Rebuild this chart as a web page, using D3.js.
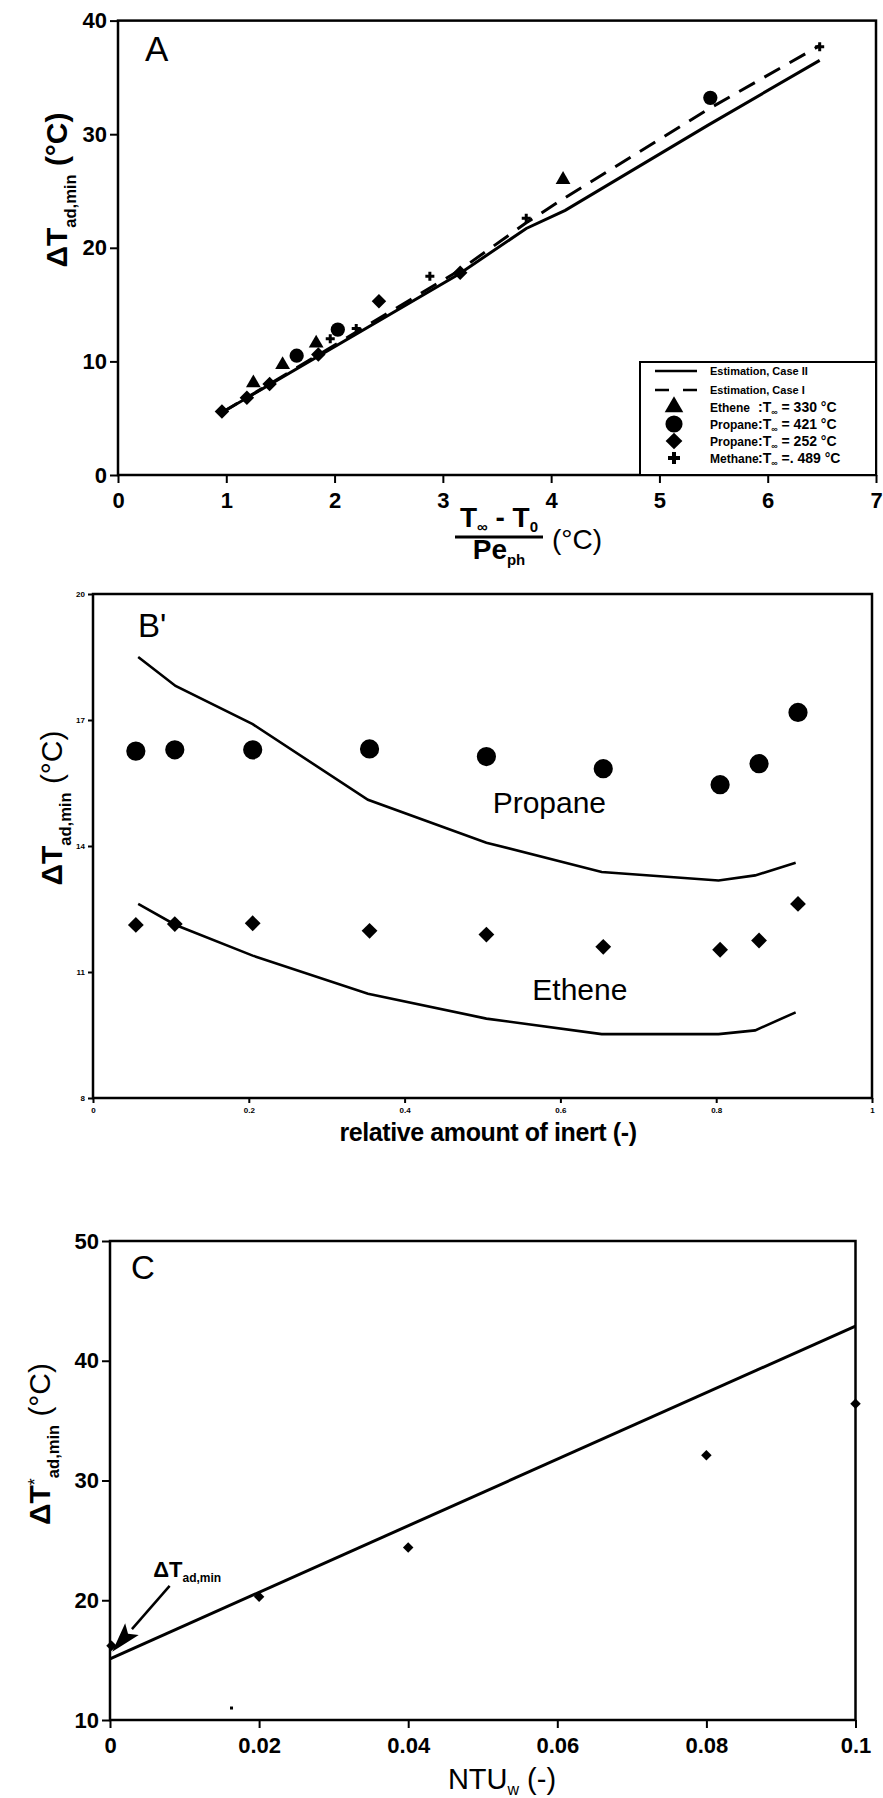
<!DOCTYPE html>
<html>
<head>
<meta charset="utf-8">
<script src="https://cdn.jsdelivr.net/npm/d3@7"></script>
<style>
  body { margin: 0; background: #fff; }
  svg { display: block; }
  text { font-family: "Liberation Sans", Arial, sans-serif; fill: #000; }
</style>
</head>
<body>
<svg id="chart"></svg>
<script>
// Set dimensions
const width = 883;
const height = 1798;

// ---- Panel A data: [x, y] = [(Too - T0)/Pe_ph, dT_ad,min]
const ethene330 = [[1.25, 8.1], [1.52, 9.7], [1.83, 11.6], [4.11, 26.0]];
const propane421 = [[1.65, 10.5], [2.03, 12.8], [5.47, 33.2]];
const propane252 = [[0.96, 5.6], [1.19, 6.8], [1.40, 8.0], [1.85, 10.6], [2.41, 15.3], [3.16, 17.8]];
const methane489 = [[1.96, 12.0], [2.20, 12.9], [2.88, 17.5], [3.77, 22.6], [6.48, 37.7]];
const estCaseII = [[0.96, 5.5], [3.15, 17.7], [3.77, 21.7], [4.13, 23.3], [5.45, 30.8], [6.48, 36.5]];
const estCaseI = [[0.96, 5.5], [3.15, 18.0], [3.77, 22.2], [4.11, 24.3], [5.45, 32.2], [6.48, 37.8]];
const legendNames = ["Ethene", "Propane", "Propane", "Methane"];
const legendTemps = ["= 330 °C", "= 421 °C", "= 252 °C", "=. 489 °C"];
const ticksAx = [0, 1, 2, 3, 4, 5, 6, 7];
const ticksAy = [0, 10, 20, 30, 40];

// ---- Panel B data: relative amount of inert vs dT_ad,min
const inertMeas = [0.055, 0.105, 0.205, 0.355, 0.505, 0.655, 0.805, 0.855, 0.905];
const propaneMeas = [16.26, 16.29, 16.29, 16.31, 16.13, 15.84, 15.46, 15.96, 17.18];
const etheneMeas = [12.12, 12.14, 12.16, 11.98, 11.89, 11.60, 11.53, 11.75, 12.62];
const inertCalc = [0.058, 0.106, 0.205, 0.353, 0.505, 0.653, 0.803, 0.85, 0.902];
const propaneCalc = [18.50, 17.81, 16.90, 15.10, 14.08, 13.38, 13.18, 13.30, 13.60];
const etheneCalc = [12.62, 12.12, 11.39, 10.48, 9.89, 9.52, 9.52, 9.61, 10.04];
const ticksBx = [0, 0.2, 0.4, 0.6, 0.8, 1];
const ticksBy = [8, 11, 14, 17, 20];

// ---- Panel C data: NTU_w vs dT*_ad,min
const ntuW = [0.0002, 0.02, 0.04, 0.08, 0.1];
const dTstar = [16.2, 20.3, 24.4, 32.1, 36.4];
const fitC = [[0, 15.1], [0.1, 42.9]];
const speckC = [[0.0163, 11.0]];
const arrowC = [[0.008, 21.2], [0.0003, 15.7]];
const ticksCx = [0, 0.02, 0.04, 0.06, 0.08, 0.1];
const ticksCy = [10, 20, 30, 40, 50];

const svg = d3.select("#chart")
    .attr("width", width)
    .attr("height", height);

// Scales
const xA = d3.scaleLinear().domain([0, 7]).range([118, 876]);
const yA = d3.scaleLinear().domain([0, 40]).range([475, 20.6]);
const xB = d3.scaleLinear().domain([0, 1]).range([93, 872]);
const yB = d3.scaleLinear().domain([8, 20]).range([1098, 594]);
const xC = d3.scaleLinear().domain([0, 0.1]).range([110, 855.5]);
const yC = d3.scaleLinear().domain([10, 50]).range([1720, 1241]);

const sym = {
    tri: d3.symbol().type(d3.symbolTriangle),
    circ: d3.symbol().type(d3.symbolCircle),
    sq: d3.symbol().type(d3.symbolSquare),
    cross: d3.symbol().type(d3.symbolCross)
};

// frame + axes for one panel
function drawFrame(x, y, xt, yt, o) {
    const g = svg.append("g");
    g.append("rect")
        .attr("x", x.range()[0]).attr("y", y.range()[1])
        .attr("width", x.range()[1] - x.range()[0])
        .attr("height", y.range()[0] - y.range()[1])
        .attr("fill", "none").attr("stroke", "#000").attr("stroke-width", o.frame);

    const ax = g.append("g")
        .attr("transform", `translate(0,${y.range()[0]})`)
        .call(d3.axisBottom(x).tickValues(xt).tickSize(o.tick).tickSizeOuter(0)
            .tickPadding(o.padX).tickFormat(d3.format("")));
    const ay = g.append("g")
        .attr("transform", `translate(${x.range()[0]},0)`)
        .call(d3.axisLeft(y).tickValues(yt).tickSize(o.tick).tickSizeOuter(0)
            .tickPadding(o.padY).tickFormat(d3.format("")));
    [ax, ay].forEach(a => {
        a.select(".domain").remove();
        a.selectAll(".tick line").attr("stroke", "#000").attr("stroke-width", o.tickW);
        a.selectAll(".tick text")
            .style("font-family", "'Liberation Sans', Arial, sans-serif")
            .style("font-size", o.font + "px")
            .style("font-weight", "bold")
            .attr("fill", "#000");
    });
    return g;
}

function yTitle(x, yc, size, star, weight) {
    const t = svg.append("text")
        .attr("transform", `translate(${x},${yc}) rotate(-90)`)
        .attr("text-anchor", "middle")
        .style("font-size", size + "px")
        .style("font-weight", weight);
    t.append("tspan").text("ΔT").style("font-weight", "bold");
    if (star) t.append("tspan").text("*").attr("dy", -size * 0.3).style("font-size", size * 0.6 + "px");
    t.append("tspan").text("ad,min").attr("dy", star ? size * 0.6 : size * 0.3)
        .style("font-size", size * 0.55 + "px").style("font-weight", "bold");
    t.append("tspan").text(" (°C)").attr("dy", -size * 0.3);
}

const line = (x, y) => d3.line().x(d => x(d[0])).y(d => y(d[1]));

// ================= Panel A =================
drawFrame(xA, yA, ticksAx, ticksAy, { frame: 2.5, tick: 8, tickW: 2, padX: 9, padY: 3, font: 22 });

svg.append("path").datum(estCaseII)
    .attr("d", line(xA, yA)).attr("fill", "none").attr("stroke", "#000").attr("stroke-width", 3);
svg.append("path").datum(estCaseI)
    .attr("d", line(xA, yA)).attr("fill", "none").attr("stroke", "#000").attr("stroke-width", 3)
    .attr("stroke-dasharray", "18,11");

const gA = svg.append("g");
gA.selectAll(".e330").data(ethene330).join("path")
    .attr("transform", d => `translate(${xA(d[0])},${yA(d[1])})`).attr("d", sym.tri.size(95)());
gA.selectAll(".p421").data(propane421).join("path")
    .attr("transform", d => `translate(${xA(d[0])},${yA(d[1])})`).attr("d", sym.circ.size(160)());
gA.selectAll(".p252").data(propane252).join("path")
    .attr("transform", d => `translate(${xA(d[0])},${yA(d[1])}) rotate(45)`).attr("d", sym.sq.size(105)());
gA.selectAll(".m489").data(methane489).join("path")
    .attr("transform", d => `translate(${xA(d[0])},${yA(d[1])})`).attr("d", sym.cross.size(45)());

// legend
const lg = svg.append("g");
const lx0 = 640, ly0 = 362;
lg.append("rect").attr("x", lx0).attr("y", ly0).attr("width", 876 - lx0).attr("height", 475 - ly0)
    .attr("fill", "#fff").attr("stroke", "#000").attr("stroke-width", 2);
const rowsY = [371, 390, 407, 424, 441, 458];
lg.append("line").attr("x1", 655).attr("x2", 697).attr("y1", rowsY[0]).attr("y2", rowsY[0])
    .attr("stroke", "#000").attr("stroke-width", 2.5);
lg.append("line").attr("x1", 655).attr("x2", 697).attr("y1", rowsY[1]).attr("y2", rowsY[1])
    .attr("stroke", "#000").attr("stroke-width", 2.5).attr("stroke-dasharray", "14,14");
["Estimation, Case II", "Estimation, Case I"].forEach((s, i) => {
    lg.append("text").attr("x", 710).attr("y", rowsY[i] + 4)
        .style("font-size", "11px").style("font-weight", "bold").text(s);
});
const legSym = [
    sym.tri.size(150)(), sym.circ.size(230)(), sym.sq.size(140)(), sym.cross.size(80)()
];
legendNames.forEach((n, i) => {
    const yy = rowsY[i + 2];
    lg.append("path").attr("d", legSym[i])
        .attr("transform", `translate(674,${yy})${i === 2 ? " rotate(45)" : ""}`);
    lg.append("text").attr("x", 710).attr("y", yy + 5)
        .style("font-size", "12px").style("font-weight", "bold").text(n);
    const t = lg.append("text").attr("x", 758).attr("y", yy + 5)
        .style("font-size", "14px").style("font-weight", "bold");
    t.append("tspan").text(":T");
    t.append("tspan").text("∞").attr("dy", 3).style("font-size", "9px");
    t.append("tspan").text(" " + legendTemps[i]).attr("dy", -3);
});

svg.append("text").attr("x", 145).attr("y", 61).style("font-size", "35px").text("A");
yTitle(67, 190, 30, false, "bold");

// fraction x label
const fx = svg.append("g").style("font-weight", "bold");
const num = fx.append("text").attr("x", 499).attr("y", 527).attr("text-anchor", "middle")
    .style("font-size", "28px");
num.append("tspan").text("T");
num.append("tspan").text("∞").attr("dy", 5).style("font-size", "15px");
num.append("tspan").text(" - T").attr("dy", -5);
num.append("tspan").text("0").attr("dy", 5).style("font-size", "15px");
fx.append("line").attr("x1", 455).attr("x2", 543).attr("y1", 537).attr("y2", 537)
    .attr("stroke", "#000").attr("stroke-width", 3);
const den = fx.append("text").attr("x", 499).attr("y", 559).attr("text-anchor", "middle")
    .style("font-size", "28px");
den.append("tspan").text("Pe");
den.append("tspan").text("ph").attr("dy", 6).style("font-size", "15px");
svg.append("text").attr("x", 552).attr("y", 549).style("font-size", "28px").text("(°C)");

// ================= Panel B =================
drawFrame(xB, yB, ticksBx, ticksBy, { frame: 2.5, tick: 5, tickW: 2, padX: 4, padY: 3, font: 8 });

svg.append("path").datum(d3.zip(inertCalc, propaneCalc))
    .attr("d", line(xB, yB)).attr("fill", "none").attr("stroke", "#000").attr("stroke-width", 2.6);
svg.append("path").datum(d3.zip(inertCalc, etheneCalc))
    .attr("d", line(xB, yB)).attr("fill", "none").attr("stroke", "#000").attr("stroke-width", 2.6);

svg.append("g").selectAll("path").data(d3.zip(inertMeas, propaneMeas)).join("path")
    .attr("transform", d => `translate(${xB(d[0])},${yB(d[1])})`).attr("d", sym.circ.size(290)());
svg.append("g").selectAll("path").data(d3.zip(inertMeas, etheneMeas)).join("path")
    .attr("transform", d => `translate(${xB(d[0])},${yB(d[1])}) rotate(45)`).attr("d", sym.sq.size(125)());

svg.append("text").attr("x", xB(0.513)).attr("y", yB(14.79)).style("font-size", "30px").text("Propane");
svg.append("text").attr("x", xB(0.564)).attr("y", yB(10.34)).style("font-size", "30px").text("Ethene");
svg.append("text").attr("x", 138).attr("y", 637).style("font-size", "33px").text("B'");
yTitle(62, 808, 30, false, "normal");
svg.append("text").attr("x", 488).attr("y", 1141).attr("text-anchor", "middle")
    .style("font-size", "25px").style("font-weight", "bold").style("letter-spacing", "-0.4px")
    .text("relative amount of inert (-)");

// ================= Panel C =================
drawFrame(xC, yC, ticksCx, ticksCy, { frame: 2.5, tick: 8, tickW: 2, padX: 9, padY: 3, font: 22 });

svg.append("path").datum(fitC)
    .attr("d", line(xC, yC)).attr("fill", "none").attr("stroke", "#000").attr("stroke-width", 3);
svg.append("g").selectAll("path").data(d3.zip(ntuW, dTstar)).join("path")
    .attr("transform", d => `translate(${xC(d[0])},${yC(d[1])}) rotate(45)`).attr("d", sym.sq.size(55)());
svg.append("g").selectAll("rect").data(speckC).join("rect")
    .attr("x", d => xC(d[0]) - 1.5).attr("y", d => yC(d[1]) - 1.5).attr("width", 3).attr("height", 3);

// arrow annotation
const [aT, aH] = arrowC.map(d => [xC(d[0]), yC(d[1])]);
const ang = Math.atan2(aH[1] - aT[1], aH[0] - aT[0]);
const hl = 30, hw = 9;
const bx = aH[0] - hl * Math.cos(ang), by = aH[1] - hl * Math.sin(ang);
svg.append("line").attr("x1", aT[0]).attr("y1", aT[1]).attr("x2", bx).attr("y2", by)
    .attr("stroke", "#000").attr("stroke-width", 2.5);
svg.append("path")
    .attr("d", `M${aH[0]},${aH[1]}L${bx + hw * Math.sin(ang)},${by - hw * Math.cos(ang)}` +
        `L${bx + 6 * Math.cos(ang)},${by + 6 * Math.sin(ang)}L${bx - hw * Math.sin(ang)},${by + hw * Math.cos(ang)}Z`);
const ann = svg.append("text").attr("x", xC(0.0058)).attr("y", yC(21.94))
    .style("font-size", "22px").style("font-weight", "bold");
ann.append("tspan").text("ΔT");
ann.append("tspan").text("ad,min").attr("dy", 5).style("font-size", "12px");

svg.append("text").attr("x", 131).attr("y", 1279).style("font-size", "33px").text("C");
yTitle(50, 1444, 30, true, "normal");
const nx = svg.append("text").attr("x", 502).attr("y", 1789).attr("text-anchor", "middle")
    .style("font-size", "29px");
nx.append("tspan").text("NTU");
nx.append("tspan").text("w").attr("dy", 6).style("font-size", "16px");
nx.append("tspan").text(" (-)").attr("dy", -6);
</script>
</body>
</html>
